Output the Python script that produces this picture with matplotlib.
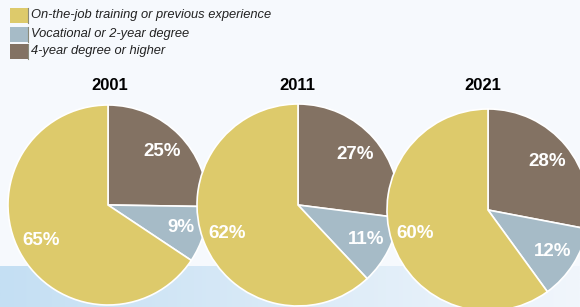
import matplotlib
matplotlib.use("Agg")
import matplotlib.pyplot as plt
import numpy as np
from matplotlib.patches import Rectangle
from matplotlib.colors import LinearSegmentedColormap

plt.rcParams['font.family'] = ['Liberation Sans', 'DejaVu Sans']

years = ["2001", "2011", "2021"]
categories = ["4-year degree or higher", "Vocational or 2-year degree",
              "On-the-job training or previous experience"]
share_2001 = [25, 9, 65]
share_2011 = [27, 11, 62]
share_2021 = [28, 12, 60]
shares = [share_2001, share_2011, share_2021]

colors = ["#837263", "#a6bbc7", "#ddca6b"]

W, H = 580, 307
fig = plt.figure(figsize=(W / 100, H / 100), dpi=100)

# background with light blue band at the bottom
bg = fig.add_axes([0, 0, 1, 1])
bg.axis("off")
bg.add_patch(Rectangle((0, 0), W, H, color="#f6f9fd", zorder=0))
grad = np.linspace(0, 1, 256)[None, :]
band = LinearSegmentedColormap.from_list("band", ["#c4dff3", "#f1f6fc"])
bg.imshow(grad, cmap=band, extent=[0, W, H, 266], aspect="auto", zorder=1)
bg.set_xlim(0, W)
bg.set_ylim(H, 0)

# legend (drawn in pixel coords)
leg_items = [(categories[2], colors[2], 15), (categories[1], colors[1], 34),
             (categories[0], colors[0], 51)]
for label, col, yc in leg_items:
    bg.add_patch(Rectangle((10, yc - 7.5), 18, 15, facecolor=col,
                           edgecolor="none", zorder=2))
    bg.plot([28, 28], [yc - 7.5, yc + 7.5], color="#8a8a7a", lw=0.8, zorder=2)
    bg.text(31, yc, label, fontsize=9.3, style="italic", va="center",
            ha="left", color="#222222", zorder=3)

# pie geometry in pixels: (center x, center y, radius)
geom = [(108, 205, 100), (298, 205, 101), (488, 210, 101)]
title_x = [110, 297, 483]

pad = 1.04
for i, (year, vals) in enumerate(zip(years, shares)):
    cx, cy, r = geom[i]
    R = r * pad
    ax = fig.add_axes([(cx - R) / W, (H - cy - R) / H, 2 * R / W, 2 * R / H])
    wedges, _ = ax.pie(vals, colors=colors, startangle=90, counterclock=False,
                       radius=1, wedgeprops=dict(edgecolor="white", linewidth=1.2))
    ax.set_xlim(-pad, pad)
    ax.set_ylim(-pad, pad)
    ax.set_aspect("equal")
    ax.axis("off")
    for w, v in zip(wedges, vals):
        ang = np.deg2rad((w.theta1 + w.theta2) / 2)
        ax.text(0.76 * np.cos(ang), 0.76 * np.sin(ang), f"{v}%", color="white",
                fontsize=13.5, fontweight="bold", ha="center", va="center")
    bg.text(title_x[i], 85, year, fontsize=12, fontweight="bold",
            ha="center", va="center", color="black")

fig.savefig("out.png", dpi=100)
